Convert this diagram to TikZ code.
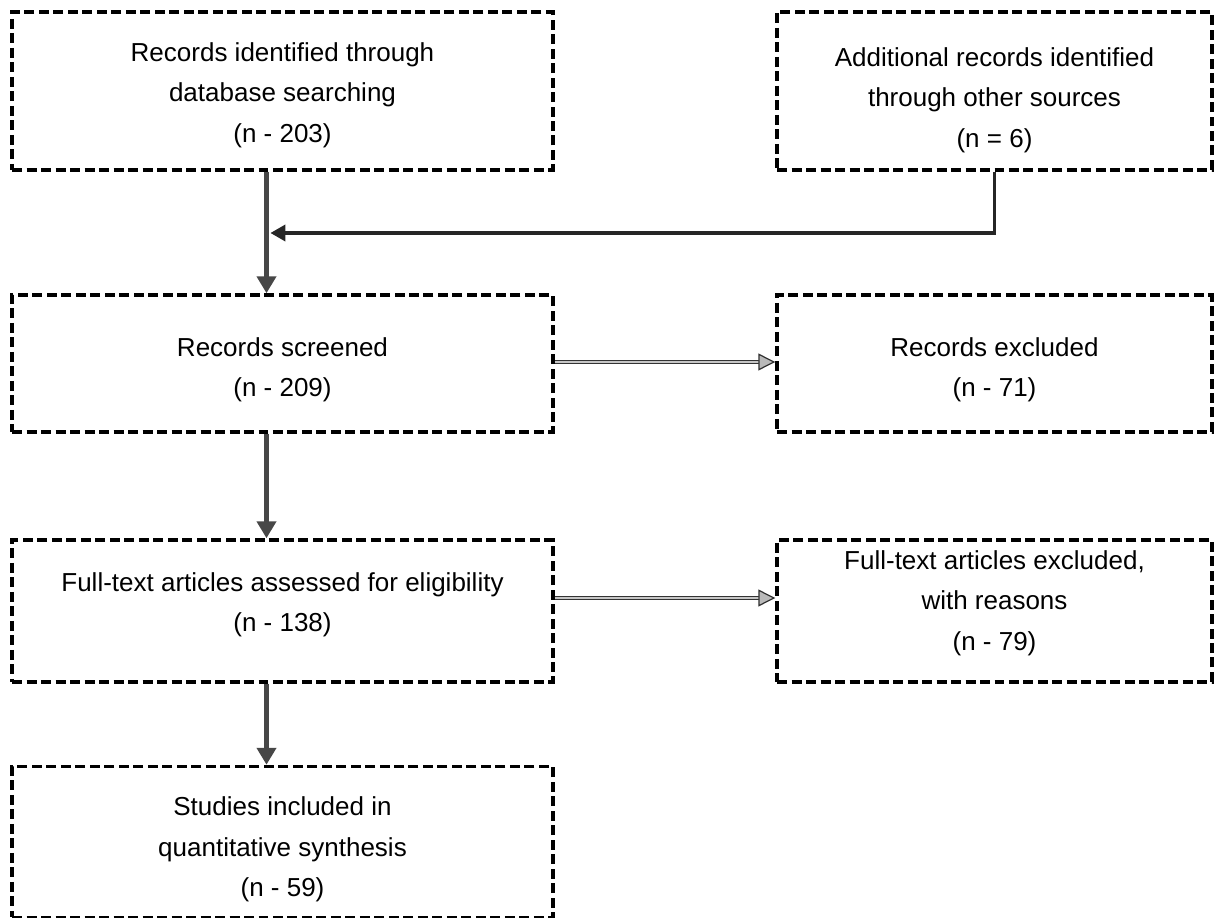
\documentclass[tikz,border=0pt]{standalone}
\usepackage{fontspec}
\setmainfont{Liberation Sans}
\usetikzlibrary{arrows.meta, positioning}

\begin{document}
\begin{tikzpicture}[
  x=0.02cm, y=-0.02cm,
  recbox/.style={draw, dashed, dash pattern=on 0.2cm off 0.09cm, line width=2pt, inner sep=0pt},
  wide/.style={recbox, minimum width=10.82cm},
  narrow/.style={recbox, minimum width=8.7cm},
  boxtxt/.style={align=center, inner sep=0pt, font=\fontsize{14.8}{23}\selectfont},
  downarr/.style={-{Triangle[length=3.4mm, width=3.8mm]}, line width=2.8pt, black!72},
  sidearr/.style={-{Triangle[length=3.4mm, width=3.4mm, fill=gray!55]}, draw=black!80,
    double=gray!45, double distance=1.2pt, line width=0.7pt},
  joinline/.style={line width=2pt, black!85}
]
\useasboundingbox (0,0) rectangle (1215,918);

% boxes
\node[wide, minimum height=3.16cm] (ident) at (282.5,91) {};
\node[narrow, minimum height=3.16cm] (other) at (994.5,91) {};
\node[wide, minimum height=2.74cm] (screen) at (282.5,363.5) {};
\node[narrow, minimum height=2.74cm] (excl) at (994.5,363.5) {};
\node[wide, minimum height=2.84cm] (full) at (282.5,611) {};
\node[narrow, minimum height=2.84cm] (fullexcl) at (994.5,611) {};
\node[wide, minimum height=3.02cm] (incl) at (282.5,842) {};

% texts
\node[boxtxt] (identtxt) at (282.5,95) {Records identified through\\database searching\\(n - 203)};
\node[boxtxt] (othertxt) at (994.5,100) {Additional records identified\\through other sources\\(n = 6)};
\node[boxtxt] (screentxt) at (282.5,370) {Records screened\\(n - 209)};
\node[boxtxt] (excltxt) at (994.5,369.5) {Records excluded\\(n - 71)};
\node[boxtxt] (fulltxt) at (282.5,605) {Full-text articles assessed for eligibility\\(n - 138)};
\node[boxtxt] (fullexcltxt) at (994.5,603) {Full-text articles excluded,\\with reasons\\(n - 79)};
\node[boxtxt] (incltxt) at (282.5,849.5) {Studies included in\\quantitative synthesis\\(n - 59)};

% main flow
\coordinate (merge) at (266,233);
\draw[downarr] ([xshift=-0.32cm]ident.south) -- ([xshift=-0.32cm]screen.north);
\draw[joinline, -{Triangle[length=3mm, width=3.2mm]}, shorten >=2.5pt] (other.south) |- (merge);
\draw[downarr] ([xshift=-0.32cm]screen.south) -- ([xshift=-0.32cm]full.north);
\draw[downarr] ([xshift=-0.32cm]full.south) -- ([xshift=-0.32cm]incl.north);

% exclusions
\draw[sidearr] ([yshift=0.03cm]screen.east) -- ([yshift=0.03cm]excl.west);
\draw[sidearr] ([yshift=0.26cm]full.east) -- ([yshift=0.26cm]fullexcl.west);
\end{tikzpicture}
\end{document}
